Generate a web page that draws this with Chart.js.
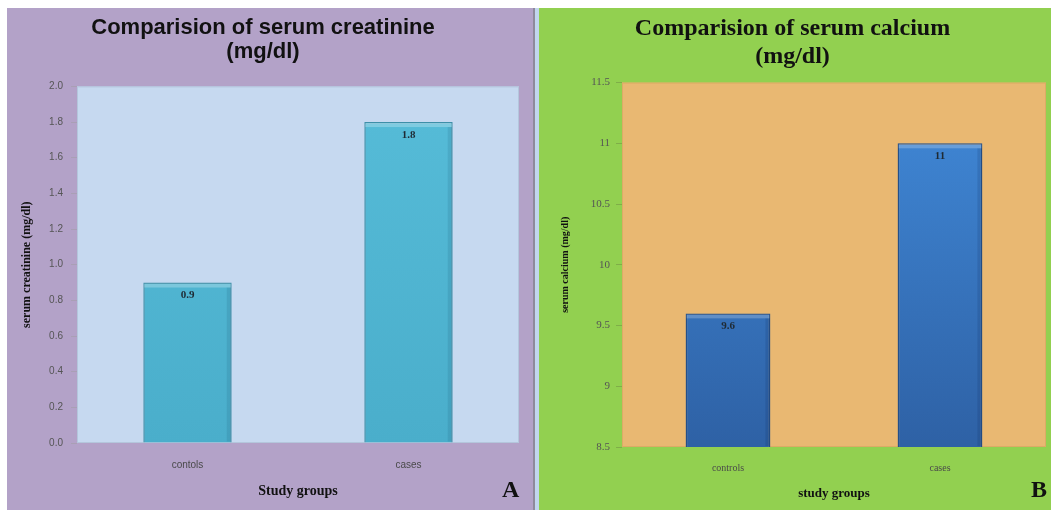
<!DOCTYPE html>
<html>
<head>
<meta charset="utf-8">
<script src="https://cdn.jsdelivr.net/npm/chart.js@4.4.1/dist/chart.umd.min.js"></script>
<style>
  html, body { margin: 0; padding: 0; background: #ffffff; width: 1051px; height: 510px; overflow: hidden; }
  .panel { position: absolute; }
  #panelA { left: 7px; top: 8px; width: 526px; height: 502px; background: #b3a2c8; }
  #panelB { left: 539px; top: 8px; width: 512px; height: 502px; background: #92d050; }
  #sepDark { position: absolute; left: 533px; top: 8px; width: 2px; height: 502px; background: #8e8a9c; }
  #sepLight { position: absolute; left: 535px; top: 8px; width: 4px; height: 502px; background: #c2d6ee; }
  canvas { position: absolute; left: 0; top: 0; }
  .tag { position: absolute; font-family: "Liberation Serif", serif; font-weight: bold; font-size: 24px; color: #111; }
</style>
</head>
<body>
<div id="panelA" class="panel"><canvas id="chartA" width="526" height="502"></canvas><div class="tag" style="left:495px; top:468px;">A</div></div>
<div id="sepDark"></div>
<div id="sepLight"></div>
<div id="panelB" class="panel"><canvas id="chartB" width="512" height="502"></canvas><div class="tag" style="left:492px; top:468px;">B</div></div>
<script>
// Study groups and mean values
const groupsA = ["contols", "cases"];
const creatinine = [0.9, 1.8];
const creatinineTicks = [0.0, 0.2, 0.4, 0.6, 0.8, 1.0, 1.2, 1.4, 1.6, 1.8, 2.0];

const groupsB = ["controls", "cases"];
const calcium = [9.6, 11];
const calciumTicks = [8.5, 9, 9.5, 10, 10.5, 11, 11.5];

// Fills the plotting area with its own colour
const plotFill = {
  id: "plotFill",
  beforeDraw(chart, args, opts) {
    const { ctx, chartArea: a } = chart;
    ctx.save();
    ctx.fillStyle = opts.color;
    ctx.fillRect(a.left, a.top, a.right - a.left, a.bottom - a.top);
    ctx.strokeStyle = opts.edge;
    ctx.lineWidth = 1;
    ctx.strokeRect(a.left + 0.5, a.top + 0.5, a.right - a.left - 1, a.bottom - a.top - 1);
    ctx.restore();
  }
};

// Writes each bar's value just inside its top edge and adds a light bevel on the bar
const valueLabels = {
  id: "valueLabels",
  afterDatasetsDraw(chart, args, opts) {
    const { ctx, chartArea: a } = chart;
    const meta = chart.getDatasetMeta(0);
    const data = chart.data.datasets[0].data;
    ctx.save();
    meta.data.forEach((bar) => {
      const half = bar.width / 2;
      const bottom = Math.min(bar.base, a.bottom);
      ctx.fillStyle = opts.bevel;
      ctx.fillRect(bar.x - half + 1, bar.y + 1, bar.width - 2, 4);
      ctx.fillStyle = opts.shade;
      ctx.fillRect(bar.x + half - 5, bar.y + 5, 4, bottom - bar.y - 6);
    });
    ctx.font = opts.font;
    ctx.fillStyle = opts.color;
    ctx.textAlign = "center";
    ctx.textBaseline = "middle";
    meta.data.forEach((bar, i) => {
      ctx.fillText(opts.format(data[i]), bar.x, bar.y + opts.offset);
    });
    ctx.restore();
  }
};

function barGradient(top, bottom) {
  return (c) => {
    const a = c.chart.chartArea;
    if (!a) return top;
    const g = c.chart.ctx.createLinearGradient(0, a.top, 0, a.bottom);
    g.addColorStop(0, top);
    g.addColorStop(1, bottom);
    return g;
  };
}

function makeChart(id, cfg) {
  return new Chart(document.getElementById(id), {
    type: "bar",
    data: {
      labels: cfg.labels,
      datasets: [{
        data: cfg.values,
        backgroundColor: cfg.barFill,
        borderColor: cfg.barEdge,
        borderWidth: 1.5,
        barPercentage: 0.4,
        categoryPercentage: 1.0
      }]
    },
    options: {
      responsive: false,
      animation: false,
      layout: { padding: { left: 0, right: cfg.padRight, top: 0, bottom: 0 } },
      plugins: {
        legend: { display: false },
        tooltip: { enabled: false },
        title: {
          display: true,
          text: cfg.title,
          color: "#111111",
          font: cfg.titleFont,
          padding: cfg.titlePad
        },
        plotFill: { color: cfg.plotColor, edge: cfg.plotEdge },
        valueLabels: { font: cfg.valueFont, color: "#1f2a33", offset: 13, format: cfg.valueFormat, bevel: cfg.bevel, shade: cfg.shade }
      },
      scales: {
        x: {
          grid: { display: false, drawTicks: false },
          border: { display: false },
          ticks: { color: "#4a4a4a", font: cfg.xTickFont, padding: cfg.xTickPad },
          title: { display: true, text: cfg.xTitle, color: "#111111", font: cfg.xTitleFont, padding: { top: 2, bottom: cfg.xTitleBottom } },
          afterFit(s) { s.height = cfg.xHeight; }
        },
        y: {
          min: cfg.ticks[0],
          max: cfg.ticks[cfg.ticks.length - 1],
          afterBuildTicks(s) { s.ticks = cfg.ticks.map(v => ({ value: v })); },
          grid: { display: true, drawOnChartArea: false, drawTicks: true, tickLength: 6, color: cfg.tickColor },
          border: { display: false },
          ticks: { color: "#555555", font: cfg.yTickFont, padding: cfg.yTickPad, callback: cfg.tickFormat },
          title: { display: true, text: cfg.yTitle, color: "#111111", font: cfg.yTitleFont, padding: { top: cfg.yTitleOuter, bottom: 0 } },
          afterFit(s) { s.width = cfg.yWidth; }
        }
      }
    },
    plugins: [plotFill, valueLabels]
  });
}

makeChart("chartA", {
  labels: groupsA,
  values: creatinine,
  ticks: creatinineTicks,
  title: ["Comparision of serum creatinine", "(mg/dl)"],
  titleFont: { family: "Liberation Sans", size: 22, weight: "bold", lineHeight: 1.1 },
  titlePad: { top: 8, bottom: 22 },
  plotColor: "#c6d9f0",
  plotEdge: "#b4c6dc",
  barFill: barGradient("#56bcd8", "#4aaecb"),
  barEdge: "#3d8fa8",
  bevel: "rgba(255,255,255,0.25)",
  shade: "rgba(0,40,70,0.10)",
  valueFont: "bold 11px 'Liberation Serif'",
  valueFormat: v => v.toFixed(1),
  tickFormat: v => v.toFixed(1),
  tickColor: "#a99fb5",
  xTickFont: { family: "Liberation Sans", size: 10 },
  xTickPad: 16,
  xTitle: "Study groups",
  xTitleFont: { family: "Liberation Serif", size: 14, weight: "bold" },
  xTitleBottom: 10,
  xHeight: 67,
  yTitle: "serum creatinine (mg/dl)",
  yTitleFont: { family: "Liberation Serif", size: 12, weight: "bold" },
  yTitleOuter: 13,
  yTickFont: { family: "Liberation Sans", size: 10 },
  yTickPad: 8,
  yWidth: 70,
  padRight: 14
});

makeChart("chartB", {
  labels: groupsB,
  values: calcium,
  ticks: calciumTicks,
  title: ["Comparision of serum calcium", "(mg/dl)"],
  titleFont: { family: "Liberation Serif", size: 24, weight: "bold", lineHeight: 1.2 },
  titlePad: { top: 6, bottom: 11 },
  plotColor: "#e9b872",
  plotEdge: "#dcab66",
  barFill: barGradient("#418ad9", "#2e61a5"),
  barEdge: "#244f88",
  bevel: "rgba(255,255,255,0.22)",
  shade: "rgba(0,20,60,0.12)",
  valueFont: "bold 11px 'Liberation Serif'",
  valueFormat: v => String(v),
  tickFormat: v => String(v),
  tickColor: "#7fae48",
  xTickFont: { family: "Liberation Serif", size: 10 },
  xTickPad: 15,
  xTitle: "study groups",
  xTitleFont: { family: "Liberation Serif", size: 13, weight: "bold" },
  xTitleBottom: 9,
  xHeight: 63,
  yTitle: "serum calcium (mg/dl)",
  yTitleFont: { family: "Liberation Serif", size: 10, weight: "bold" },
  yTitleOuter: 20,
  yTickFont: { family: "Liberation Serif", size: 11 },
  yTickPad: 6,
  yWidth: 83,
  padRight: 5
});
</script>
</body>
</html>
